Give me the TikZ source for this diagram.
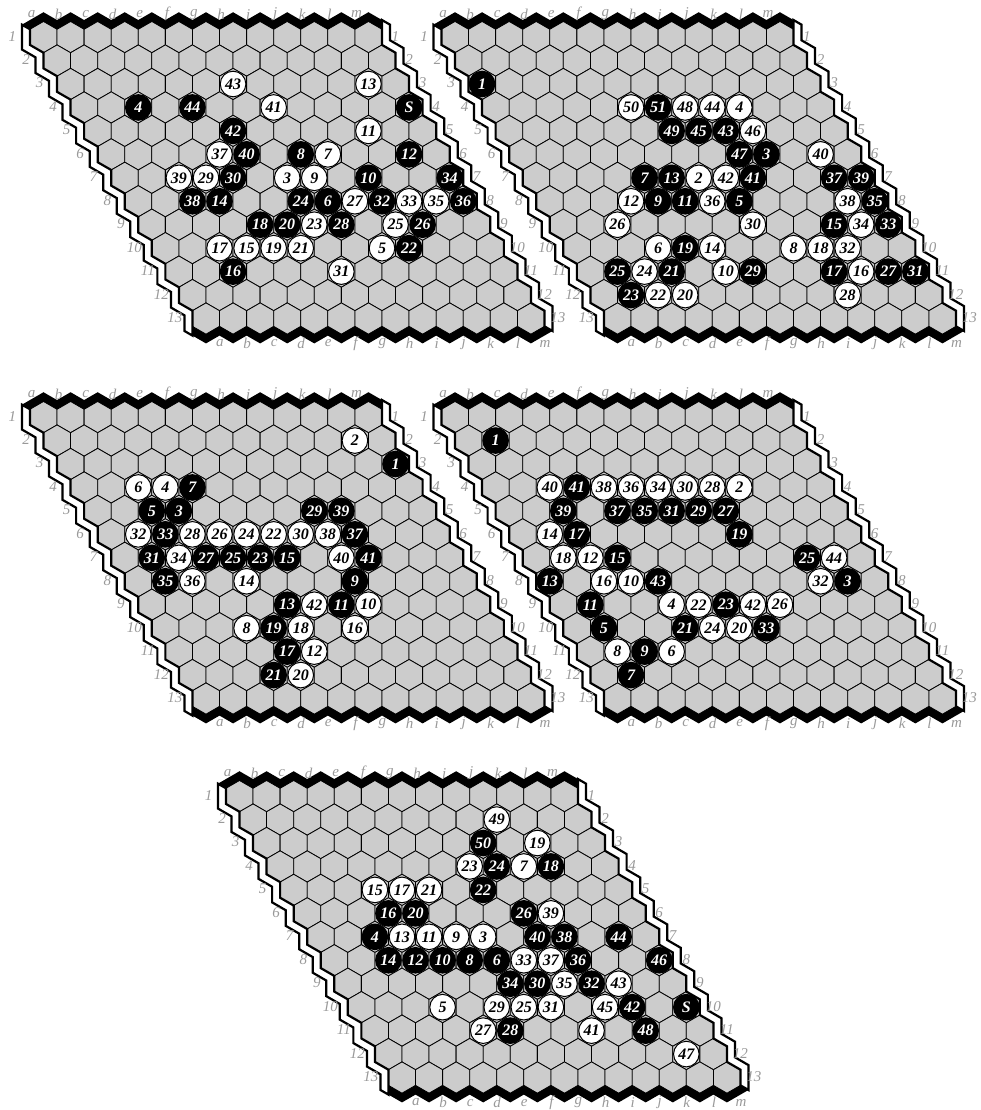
\documentclass[tikz,border=0pt]{standalone}
\usepackage{fontspec}
\setmainfont{Liberation Serif}
\newcount\stc
\def\W{27.08}\def\H{23.4525}\def\R{15.635}\def\hw{13.54}\def\hr{7.8175}\def\dd{8}
\tikzset{
  hexcell/.style={fill=black!20, draw=black, line width=0.8pt},
  whiteedge/.style={fill=white, draw=black, line width=2.2pt, line join=miter},
  blackedge/.style={fill=black},
  coordlabel/.style={text=black!40, font=\fontsize{15}{15}\selectfont\itshape, inner sep=0pt},
  stonebase/.style={circle, draw=black, line width=1pt, minimum size=25.6pt, inner sep=0pt, font=\fontsize{16}{16}\selectfont\bfseries\itshape},
  bstone/.style={stonebase, fill=black, text=white},
  wstone/.style={stonebase, fill=white, text=black}
}
\newcommand\hexboard[1]{%
  \foreach \r in {0,...,12}{\foreach \c in {0,...,12}{
    \pgfmathsetmacro\cx{\c*\W+\r*\hw}\pgfmathsetmacro\cy{\r*\H}
    \draw[hexcell] (\cx+\hw,\cy-\hr) -- ++(-\hw,-\hr) -- ++(-\hw,\hr) -- ++(0,\R) -- ++(\hw,\hr) -- ++(\hw,-\hr) -- cycle;
  }}
  % left white edge
  \filldraw[whiteedge] ({-\hw-\dd},{-\hr-0.5774*\dd})
    \foreach \r in {0,...,12}{ -- ({\r*\hw-\hw},{\r*\H-\hr}) -- ({\r*\hw-\hw},{\r*\H+\hr}) }
    -- ({11*\hw},{12*\H+\hr+1.1547*\dd})
    \foreach \r in {12,...,0}{ -- ({\r*\hw-\hw-\dd},{\r*\H+\hr+0.5774*\dd}) -- ({\r*\hw-\hw-\dd},{\r*\H-\hr+0.5774*\dd}) }
    -- cycle;
  % right white edge
  \filldraw[whiteedge] ({12*\W+\hw},{-\hr-1.1547*\dd})
    \foreach \r in {0,...,12}{ -- ({12*\W+\r*\hw+\hw},{\r*\H-\hr}) -- ({12*\W+\r*\hw+\hw},{\r*\H+\hr}) }
    -- ({37*\hw+\dd},{12*\H+\hr+0.5774*\dd})
    \foreach \r in {12,...,0}{ -- ({12*\W+\r*\hw+\hw+\dd},{\r*\H+\hr-0.5774*\dd}) -- ({12*\W+\r*\hw+\hw+\dd},{\r*\H-\hr-0.5774*\dd}) }
    -- cycle;
  % top black edge
  \fill[blackedge] ({-\hw-\dd},{-\hr-0.5774*\dd})
    \foreach \k in {0,...,26}{ -- ({\k*\hw-\hw},{-\hr-\hr*mod(\k,2)-1.1547*\dd}) }
    \foreach \k in {26,...,0}{ -- ({\k*\hw-\hw},{-\hr-\hr*mod(\k,2)}) }
    -- cycle;
  % bottom black edge
  \fill[blackedge] ({11*\hw},{12*\H+\hr})
    \foreach \k in {0,...,26}{ -- ({(\k+11)*\hw},{12*\H+\hr+\hr*mod(\k,2)+1.1547*\dd}) }
    -- ({37*\hw+\dd},{12*\H+\hr+0.5774*\dd})
    \foreach \k in {26,...,0}{ -- ({(\k+11)*\hw},{12*\H+\hr+\hr*mod(\k,2)}) }
    -- cycle;
  % coordinate labels
  \foreach \c [count=\i] in {a,b,c,d,e,f,g,h,i,j,k,l,m}{
    \node[coordlabel] (b#1top\c) at ({(\i-1)*\W-12},-23) {\c};
    \node[coordlabel] (b#1bot\c) at ({(\i-1)*\W+6*\W+14},{12*\H+25}) {\c};
  }
  \foreach \r in {1,...,13}{
    \node[coordlabel] (b#1left\r) at ({(\r-1)*\hw-31},{(\r-1)*\H-1}) {\r};
    \node[coordlabel] (b#1right\r) at ({12*\W+(\r-1)*\hw+27},{(\r-1)*\H-1}) {\r};
  }
}
\newcommand\putstone[4]{%
  \pgfmathsetmacro\sx{(#1-1)*\W+(#2-1)*\hw}\pgfmathsetmacro\sy{(#2-1)*\H}%
  \global\advance\stc by 1
  \node[#3stone] (stone\the\stc) at (\sx,\sy) {#4};}
\begin{document}
\begin{tikzpicture}[x=1pt,y=-1pt]
\useasboundingbox (0,0) rectangle (981,1110);
% ---------------- board 1
\begin{scope}[shift={(43.5,37.1)}]
\hexboard{1}
\putstone{3}{4}{b}{4}\putstone{5}{4}{b}{44}\putstone{13}{4}{b}{S}\putstone{6}{5}{b}{42}
\putstone{6}{6}{b}{40}\putstone{8}{6}{b}{8}\putstone{12}{6}{b}{12}\putstone{5}{7}{b}{30}
\putstone{10}{7}{b}{10}\putstone{13}{7}{b}{34}\putstone{3}{8}{b}{38}\putstone{4}{8}{b}{14}
\putstone{7}{8}{b}{24}\putstone{8}{8}{b}{6}\putstone{10}{8}{b}{32}\putstone{13}{8}{b}{36}
\putstone{5}{9}{b}{18}\putstone{6}{9}{b}{20}\putstone{8}{9}{b}{28}\putstone{11}{9}{b}{26}
\putstone{10}{10}{b}{22}\putstone{3}{11}{b}{16}
\putstone{7}{3}{w}{43}\putstone{12}{3}{w}{13}\putstone{8}{4}{w}{41}\putstone{11}{5}{w}{11}
\putstone{5}{6}{w}{37}\putstone{9}{6}{w}{7}\putstone{3}{7}{w}{39}\putstone{4}{7}{w}{29}
\putstone{7}{7}{w}{3}\putstone{8}{7}{w}{9}\putstone{9}{8}{w}{27}\putstone{11}{8}{w}{33}
\putstone{12}{8}{w}{35}\putstone{7}{9}{w}{23}\putstone{10}{9}{w}{25}\putstone{3}{10}{w}{17}
\putstone{4}{10}{w}{15}\putstone{5}{10}{w}{19}\putstone{6}{10}{w}{21}\putstone{9}{10}{w}{5}
\putstone{7}{11}{w}{31}
\end{scope}
% ---------------- board 2
\begin{scope}[shift={(455,37.1)}]
\hexboard{2}
\putstone{1}{3}{b}{1}\putstone{7}{4}{b}{51}\putstone{7}{5}{b}{49}\putstone{8}{5}{b}{45}
\putstone{9}{5}{b}{43}\putstone{9}{6}{b}{47}\putstone{10}{6}{b}{3}\putstone{5}{7}{b}{7}
\putstone{6}{7}{b}{13}\putstone{9}{7}{b}{41}\putstone{12}{7}{b}{37}\putstone{13}{7}{b}{39}
\putstone{5}{8}{b}{9}\putstone{6}{8}{b}{11}\putstone{8}{8}{b}{5}\putstone{13}{8}{b}{35}
\putstone{11}{9}{b}{15}\putstone{13}{9}{b}{33}\putstone{5}{10}{b}{19}\putstone{2}{11}{b}{25}
\putstone{4}{11}{b}{21}\putstone{7}{11}{b}{29}\putstone{10}{11}{b}{17}\putstone{12}{11}{b}{27}
\putstone{13}{11}{b}{31}\putstone{2}{12}{b}{23}
\putstone{6}{4}{w}{50}\putstone{8}{4}{w}{48}\putstone{9}{4}{w}{44}\putstone{10}{4}{w}{4}
\putstone{10}{5}{w}{46}\putstone{12}{6}{w}{40}\putstone{7}{7}{w}{2}\putstone{8}{7}{w}{42}
\putstone{4}{8}{w}{12}\putstone{7}{8}{w}{36}\putstone{12}{8}{w}{38}\putstone{3}{9}{w}{26}
\putstone{8}{9}{w}{30}\putstone{12}{9}{w}{34}\putstone{4}{10}{w}{6}\putstone{6}{10}{w}{14}
\putstone{9}{10}{w}{8}\putstone{10}{10}{w}{18}\putstone{11}{10}{w}{32}\putstone{3}{11}{w}{24}
\putstone{6}{11}{w}{10}\putstone{11}{11}{w}{16}\putstone{3}{12}{w}{22}\putstone{4}{12}{w}{20}
\putstone{10}{12}{w}{28}
\end{scope}
% ---------------- board 3
\begin{scope}[shift={(43.5,417.1)}]
\hexboard{3}
\putstone{13}{3}{b}{1}\putstone{5}{4}{b}{7}\putstone{3}{5}{b}{5}\putstone{4}{5}{b}{3}
\putstone{9}{5}{b}{29}\putstone{10}{5}{b}{39}\putstone{3}{6}{b}{33}\putstone{10}{6}{b}{37}
\putstone{2}{7}{b}{31}\putstone{4}{7}{b}{27}\putstone{5}{7}{b}{25}\putstone{6}{7}{b}{23}
\putstone{7}{7}{b}{15}\putstone{10}{7}{b}{41}\putstone{2}{8}{b}{35}\putstone{9}{8}{b}{9}
\putstone{6}{9}{b}{13}\putstone{8}{9}{b}{11}\putstone{5}{10}{b}{19}\putstone{5}{11}{b}{17}
\putstone{4}{12}{b}{21}
\putstone{12}{2}{w}{2}\putstone{3}{4}{w}{6}\putstone{4}{4}{w}{4}\putstone{2}{6}{w}{32}
\putstone{4}{6}{w}{28}\putstone{5}{6}{w}{26}\putstone{6}{6}{w}{24}\putstone{7}{6}{w}{22}
\putstone{8}{6}{w}{30}\putstone{9}{6}{w}{38}\putstone{3}{7}{w}{34}\putstone{9}{7}{w}{40}
\putstone{3}{8}{w}{36}\putstone{5}{8}{w}{14}\putstone{7}{9}{w}{42}\putstone{9}{9}{w}{10}
\putstone{4}{10}{w}{8}\putstone{6}{10}{w}{18}\putstone{8}{10}{w}{16}\putstone{6}{11}{w}{12}
\putstone{5}{12}{w}{20}
\end{scope}
% ---------------- board 4
\begin{scope}[shift={(455,417.1)}]
\hexboard{4}
\putstone{2}{2}{b}{1}\putstone{4}{4}{b}{41}\putstone{3}{5}{b}{39}\putstone{5}{5}{b}{37}
\putstone{6}{5}{b}{35}\putstone{7}{5}{b}{31}\putstone{8}{5}{b}{29}\putstone{9}{5}{b}{27}
\putstone{3}{6}{b}{17}\putstone{9}{6}{b}{19}\putstone{4}{7}{b}{15}\putstone{11}{7}{b}{25}
\putstone{1}{8}{b}{13}\putstone{5}{8}{b}{43}\putstone{12}{8}{b}{3}\putstone{2}{9}{b}{11}
\putstone{7}{9}{b}{23}\putstone{5}{10}{b}{21}\putstone{8}{10}{b}{33}\putstone{2}{10}{b}{5}
\putstone{3}{11}{b}{9}\putstone{2}{12}{b}{7}
\putstone{3}{4}{w}{40}\putstone{5}{4}{w}{38}\putstone{6}{4}{w}{36}\putstone{7}{4}{w}{34}
\putstone{8}{4}{w}{30}\putstone{9}{4}{w}{28}\putstone{10}{4}{w}{2}\putstone{2}{6}{w}{14}
\putstone{2}{7}{w}{18}\putstone{3}{7}{w}{12}\putstone{12}{7}{w}{44}\putstone{3}{8}{w}{16}
\putstone{4}{8}{w}{10}\putstone{11}{8}{w}{32}\putstone{5}{9}{w}{4}\putstone{6}{9}{w}{22}
\putstone{8}{9}{w}{42}\putstone{9}{9}{w}{26}\putstone{6}{10}{w}{24}\putstone{7}{10}{w}{20}
\putstone{2}{11}{w}{8}\putstone{4}{11}{w}{6}
\end{scope}
% ---------------- board 5
\begin{scope}[shift={(239.5,796.1)}]
\hexboard{5}
\putstone{9}{3}{b}{50}\putstone{9}{4}{b}{24}\putstone{11}{4}{b}{18}\putstone{8}{5}{b}{22}
\putstone{4}{6}{b}{16}\putstone{5}{6}{b}{20}\putstone{9}{6}{b}{26}\putstone{3}{7}{b}{4}
\putstone{9}{7}{b}{40}\putstone{10}{7}{b}{38}\putstone{12}{7}{b}{44}\putstone{3}{8}{b}{14}
\putstone{4}{8}{b}{12}\putstone{5}{8}{b}{10}\putstone{6}{8}{b}{8}\putstone{7}{8}{b}{6}
\putstone{10}{8}{b}{36}\putstone{13}{8}{b}{46}\putstone{7}{9}{b}{34}\putstone{8}{9}{b}{30}
\putstone{10}{9}{b}{32}\putstone{11}{10}{b}{42}\putstone{13}{10}{b}{S}\putstone{6}{11}{b}{28}
\putstone{11}{11}{b}{48}
\putstone{10}{2}{w}{49}\putstone{11}{3}{w}{19}\putstone{8}{4}{w}{23}\putstone{10}{4}{w}{7}
\putstone{4}{5}{w}{15}\putstone{5}{5}{w}{17}\putstone{6}{5}{w}{21}\putstone{10}{6}{w}{39}
\putstone{4}{7}{w}{13}\putstone{5}{7}{w}{11}\putstone{6}{7}{w}{9}\putstone{7}{7}{w}{3}
\putstone{8}{8}{w}{33}\putstone{9}{8}{w}{37}\putstone{9}{9}{w}{35}\putstone{11}{9}{w}{43}
\putstone{4}{10}{w}{5}\putstone{6}{10}{w}{29}\putstone{7}{10}{w}{25}\putstone{8}{10}{w}{31}
\putstone{10}{10}{w}{45}\putstone{5}{11}{w}{27}\putstone{9}{11}{w}{41}\putstone{12}{12}{w}{47}
\end{scope}
\end{tikzpicture}
\end{document}
